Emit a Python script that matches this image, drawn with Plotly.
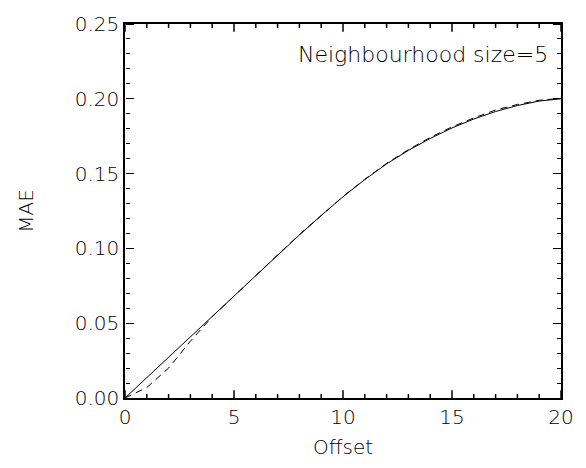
import plotly.graph_objects as go

offset = [0, 1, 2, 3, 4, 5, 6, 7, 8, 9, 10, 11, 12, 13, 14, 15, 16, 17, 18, 19, 20]
mae_solid = [0.0, 0.0137, 0.0274, 0.0411, 0.0548, 0.0685, 0.0820, 0.0955, 0.1090, 0.1220,
             0.1345, 0.1460, 0.1565, 0.1655, 0.1735, 0.1805, 0.1865, 0.1915, 0.1955, 0.1985, 0.2000]
mae_dashed = [0.0, 0.0070, 0.0200, 0.0380, 0.0543, 0.0683, 0.0822, 0.0957, 0.1092, 0.1222,
              0.1347, 0.1462, 0.1568, 0.1660, 0.1742, 0.1812, 0.1872, 0.1925, 0.1962, 0.1990, 0.2003]
label = "Neighbourhood size=5"
x_range = [0, 20]
y_range = [0, 0.25]
x_major = [0, 5, 10, 15, 20]
x_minor = [v for v in offset if v not in x_major]

FONT = "DejaVu Sans, sans-serif"
tfont = dict(family=FONT, size=20, color="black", weight=200)

PLOT_H_PX = 468 - 14 - 70
units_per_px = (y_range[1] - y_range[0]) / PLOT_H_PX
MAJOR_LEN = 8 * units_per_px
MINOR_LEN = 4 * units_per_px

fig = go.Figure()
fig.add_trace(go.Scatter(x=offset, y=mae_solid, mode="lines", xaxis="x", yaxis="y",
                         line=dict(color="black", width=1), showlegend=False))
fig.add_trace(go.Scatter(x=offset, y=mae_dashed, mode="lines", xaxis="x", yaxis="y2",
                         line=dict(color="black", width=1, dash="7px,5px"), showlegend=False))
fig.add_trace(go.Scatter(x=offset, y=mae_solid, mode="lines", xaxis="x", yaxis="y3",
                         line=dict(color="black", width=1), opacity=0, showlegend=False,
                         hoverinfo="skip"))

# x-axis inward ticks on bottom and top edges drawn as one-sided error bars
for vals, ln in ((x_major, MAJOR_LEN), (x_minor, MINOR_LEN)):
    n = len(vals)
    fig.add_trace(go.Scatter(
        x=vals, y=[y_range[0]] * n, mode="markers", cliponaxis=False,
        marker=dict(size=1, color="rgba(0,0,0,0)"),
        error_y=dict(type="data", symmetric=False, array=[ln] * n, arrayminus=[0] * n,
                     width=0, thickness=1.5, color="black"),
        showlegend=False, hoverinfo="skip"))
    fig.add_trace(go.Scatter(
        x=vals, y=[y_range[1]] * n, mode="markers", cliponaxis=False,
        marker=dict(size=1, color="rgba(0,0,0,0)"),
        error_y=dict(type="data", symmetric=False, array=[0] * n, arrayminus=[ln] * n,
                     width=0, thickness=1.5, color="black"),
        showlegend=False, hoverinfo="skip"))

main = dict(showgrid=False, zeroline=False, showline=True, linecolor="black", linewidth=1.5,
            tickfont=tfont)
tick_ax = dict(showgrid=False, zeroline=False, showline=False, ticks="outside", ticklen=8,
               tickwidth=1, tickcolor="black", showticklabels=False, anchor="free")
minor_y = dict(tick0=0, dtick=0.01, ticks="outside", ticklen=4, tickcolor="black", tickwidth=1)

fig.update_layout(
    xaxis=dict(range=x_range, tick0=0, dtick=5, mirror=True, ticks="",
               title=dict(text="Offset", font=tfont, standoff=12), **main),
    yaxis=dict(range=y_range, tick0=0, dtick=0.05, tickformat=".2f", mirror=True, ticks="",
               title=dict(text="MAE", font=tfont, standoff=36), **main),
    yaxis2=dict(range=y_range, overlaying="y", side="right", position=0, tick0=0, dtick=0.05,
                minor=minor_y, **tick_ax),
    yaxis3=dict(range=y_range, overlaying="y", side="left", position=1, tick0=0, dtick=0.05,
                minor=minor_y, **tick_ax),
)

fig.add_annotation(text=label, xref="paper", yref="paper", x=0.975, y=0.918,
                   xanchor="right", yanchor="middle", showarrow=False,
                   font=dict(family=FONT, size=22, color="black", weight=200))

fig.update_layout(width=586, height=468, margin=dict(l=125, r=17, t=14, b=70),
                  paper_bgcolor="white", plot_bgcolor="white")

fig.write_html("out.html")
